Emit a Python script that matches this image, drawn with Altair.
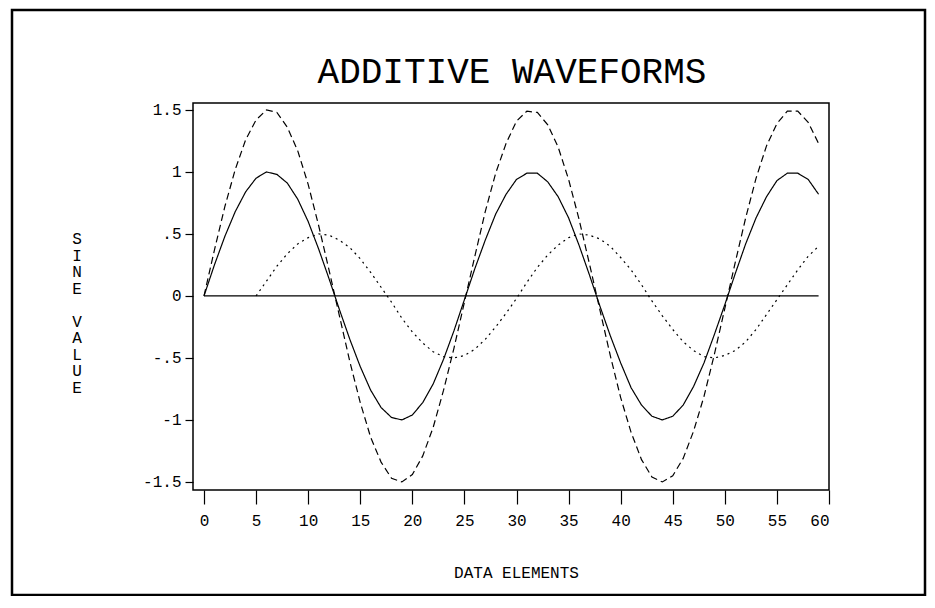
import altair as alt
import pandas as pd

# ---- data ----
x_main = list(range(60))
solid = [0.00, 0.25, 0.48, 0.68, 0.84, 0.95, 1.00, 0.98, 0.91, 0.78,
         0.60, 0.38, 0.14, -0.11, -0.35, -0.57, -0.76, -0.90, -0.98, -1.00,
         -0.96, -0.86, -0.71, -0.51, -0.28, -0.03, 0.22, 0.45, 0.66, 0.82,
         0.94, 0.99, 0.99, 0.92, 0.80, 0.63, 0.41, 0.17, -0.08, -0.32,
         -0.54, -0.74, -0.88, -0.97, -1.00, -0.97, -0.88, -0.73, -0.54, -0.31,
         -0.07, 0.18, 0.42, 0.63, 0.80, 0.93, 0.99, 0.99, 0.94, 0.82]
dashed = [0.00, 0.37, 0.72, 1.02, 1.26, 1.42, 1.50, 1.48, 1.36, 1.17,
          0.90, 0.57, 0.21, -0.16, -0.53, -0.86, -1.14, -1.34, -1.47, -1.50,
          -1.44, -1.29, -1.06, -0.76, -0.42, -0.05, 0.32, 0.68, 0.99, 1.23,
          1.41, 1.49, 1.48, 1.38, 1.20, 0.94, 0.62, 0.26, -0.11, -0.48,
          -0.82, -1.10, -1.32, -1.46, -1.50, -1.45, -1.31, -1.09, -0.81, -0.47,
          -0.10, 0.27, 0.63, 0.95, 1.21, 1.39, 1.49, 1.49, 1.40, 1.23]
x_dotted = list(range(5, 60))
dotted = [0.00, 0.12, 0.24, 0.34, 0.42, 0.47, 0.50, 0.49, 0.45, 0.39,
          0.30, 0.19, 0.07, -0.05, -0.18, -0.29, -0.38, -0.45, -0.49, -0.50,
          -0.48, -0.43, -0.35, -0.25, -0.14, -0.02, 0.11, 0.23, 0.33, 0.41,
          0.47, 0.50, 0.49, 0.46, 0.40, 0.31, 0.21, 0.09, -0.04, -0.16,
          -0.27, -0.37, -0.44, -0.49, -0.50, -0.48, -0.44, -0.37, -0.27, -0.15,
          -0.03, 0.09, 0.21, 0.32, 0.40]
zero_line = [0.0] * 60

x_ticks = [0, 5, 10, 15, 20, 25, 30, 35, 40, 45, 50, 55, 60]
y_ticks = [-1.5, -1, -0.5, 0, 0.5, 1, 1.5]
y_tick_labels = ["-1.5", "-1", "-.5", "0", ".5", "1", "1.5"]

title_text = "ADDITIVE WAVEFORMS"
x_title = "DATA ELEMENTS"
y_title_word1 = ["S", "I", "N", "E"]
y_title_word2 = ["V", "A", "L", "U", "E"]

# ---- build table ----
rows = []
for x, y in zip(x_main, zero_line):
    rows.append({"x": x, "y": y, "series": "zero"})
for x, y in zip(x_main, solid):
    rows.append({"x": x, "y": y, "series": "solid"})
for x, y in zip(x_main, dashed):
    rows.append({"x": x, "y": y, "series": "dashed"})
for x, y in zip(x_dotted, dotted):
    rows.append({"x": x, "y": y, "series": "dotted"})
df = pd.DataFrame(rows)

label_expr = "''"
for v, l in reversed(list(zip(y_ticks, y_tick_labels))):
    label_expr = f"(abs(datum.value - ({v})) < 1e-6 ? '{l}' : {label_expr})"

FONT = "Liberation Mono"

lines = alt.Chart(df).mark_line(color="black", strokeWidth=1.2, clip=True).encode(
    x=alt.X("x:Q",
            scale=alt.Scale(domain=[-1.056, 60], nice=False, zero=False),
            axis=alt.Axis(values=x_ticks, title=x_title, tickSize=14, labelPadding=8,
                          domain=False, grid=False, tickColor="black", tickWidth=1.2,
                          labelFont=FONT, labelFontSize=16, labelColor="black",
                          titleFont=FONT, titleFontSize=16, titleFontWeight="normal",
                          titleColor="black", titleX=323, titleY=82,
                          titleAlign="center", titleBaseline="middle")),
    y=alt.Y("y:Q",
            scale=alt.Scale(domain=[-1.565, 1.556], nice=False, zero=False),
            axis=alt.Axis(values=y_ticks, labelExpr=label_expr, tickSize=8, labelPadding=4,
                          domain=False, grid=False, tickColor="black", tickWidth=1.2,
                          labelFont=FONT, labelFontSize=16, labelColor="black",
                          title=None)),
    strokeDash=alt.StrokeDash("series:N",
                              scale=alt.Scale(domain=["zero", "solid", "dashed", "dotted"],
                                              range=[[1, 0], [1, 0], [7, 4], [2, 4]]),
                              legend=None),
    detail="series:N",
)

frame = alt.Chart(pd.DataFrame({"k": [0]})).mark_rect(
    filled=False, stroke="black", strokeWidth=2.5, clip=False
).encode(
    x=alt.value(-181), x2=alt.value(732),
    y=alt.value(-93), y2=alt.value(492),
)

title_mark = alt.Chart(pd.DataFrame({"t": [title_text]})).mark_text(
    font=FONT, fontSize=36, fontWeight="normal", color="black",
    align="center", baseline="alphabetic", clip=False
).encode(
    text="t:N", x=alt.value(319), y=alt.value(-20),
)

ytitle1 = alt.Chart(pd.DataFrame({"k": [0]})).mark_text(
    text=y_title_word1, font=FONT, fontSize=16, fontWeight="normal", color="black",
    align="center", baseline="top", lineHeight=16.5, clip=False
).encode(
    x=alt.value(-116), y=alt.value(128),
)
ytitle2 = alt.Chart(pd.DataFrame({"k": [0]})).mark_text(
    text=y_title_word2, font=FONT, fontSize=16, fontWeight="normal", color="black",
    align="center", baseline="top", lineHeight=16.5, clip=False
).encode(
    x=alt.value(-116), y=alt.value(128 + 5 * 16.5),
)

chart = alt.layer(frame, title_mark, ytitle1, ytitle2, lines).properties(
    width=636,
    height=387,
    autosize=alt.AutoSizeParams(type="none"),
    padding={"left": 185, "top": 95, "right": 98, "bottom": 106},
).configure_view(stroke="black", strokeWidth=1.5)

chart.save("out.html", embed_options={"renderer": "svg", "actions": False})
